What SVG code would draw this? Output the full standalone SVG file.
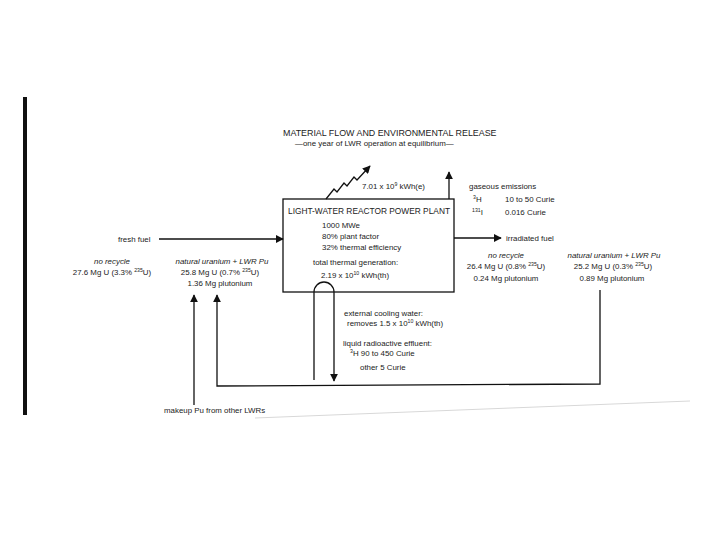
<svg xmlns="http://www.w3.org/2000/svg" width="720" height="540" viewBox="0 0 720 540">
<style>
text{font-family:"Liberation Sans",Arial,sans-serif;fill:#222;font-size:7.9px}
.cap{font-size:8.9px}
.it{font-style:italic}
.mid{text-anchor:middle}
.ln{fill:none;stroke:#111;stroke-width:1.3}
</style>
<defs>
<marker id="ah" viewBox="0 0 10 10" refX="9" refY="5" markerWidth="8" markerHeight="8" markerUnits="userSpaceOnUse" orient="auto">
<path d="M0,0 L10,5 L0,10 Z" fill="#111"/>
</marker>
</defs>
<rect width="720" height="540" fill="#fff"/>
<rect x="23" y="97" width="4" height="318" fill="#111"/>
<path d="M255,418 L690,401" stroke="#d8d8d8" stroke-width="1" fill="none"/>

<g id="title">
<text class="cap" x="283" y="136">MATERIAL FLOW AND ENVIRONMENTAL RELEASE</text>
<text x="295" y="146">—one year of LWR operation at equilibrium—</text>
</g>

<g id="plant">
<rect x="283" y="199" width="171" height="93" fill="none" stroke="#111" stroke-width="1.3"/>
<text class="cap" x="288" y="214" font-size="8.5" textLength="162" lengthAdjust="spacingAndGlyphs">LIGHT-WATER REACTOR POWER PLANT</text>
<text x="322" y="228">1000 MWe</text>
<text x="322" y="239">80% plant factor</text>
<text x="322" y="250">32% thermal efficiency</text>
<text x="313" y="265">total thermal generation:</text>
<text x="321" y="278">2.19 x 10<tspan font-size="5.2" dy="-3">10</tspan><tspan dy="3"> kWh(th)</tspan></text>
</g>

<g id="electric">
<text x="362" y="189">7.01 x 10<tspan font-size="5.2" dy="-3">9</tspan><tspan dy="3"> kWh(e)</tspan></text>
</g>

<g id="gaseous">
<text x="469" y="189">gaseous emissions</text>
<text x="473" y="202"><tspan font-size="5.2" dy="-3">3</tspan><tspan dy="3">H</tspan></text>
<text x="505" y="202">10 to 50 Curie</text>
<text x="472" y="215"><tspan font-size="5.2" dy="-3">131</tspan><tspan dy="3">I</tspan></text>
<text x="505" y="215">0.016 Curie</text>
</g>

<g id="fresh">
<text x="118" y="242">fresh fuel</text>
<text class="it mid" x="112" y="264">no recycle</text>
<text class="mid" x="112" y="275">27.6 Mg U (3.3% <tspan font-size="5.2" dy="-3">235</tspan><tspan dy="3">U)</tspan></text>
<text class="it mid" x="222" y="264">natural uranium + LWR Pu</text>
<text class="mid" x="220" y="275">25.8 Mg U (0.7% <tspan font-size="5.2" dy="-3">235</tspan><tspan dy="3">U)</tspan></text>
<text class="mid" x="220" y="286">1.36 Mg plutonium</text>
</g>

<g id="irradiated">
<text x="506" y="241">irradiated fuel</text>
<text class="it mid" x="506" y="258">no recycle</text>
<text class="mid" x="506" y="269">26.4 Mg U (0.8% <tspan font-size="5.2" dy="-3">235</tspan><tspan dy="3">U)</tspan></text>
<text class="mid" x="506" y="281">0.24 Mg plutonium</text>
<text class="it mid" x="614" y="258">natural uranium + LWR Pu</text>
<text class="mid" x="613" y="269">25.2 Mg U (0.3% <tspan font-size="5.2" dy="-3">235</tspan><tspan dy="3">U)</tspan></text>
<text class="mid" x="612" y="281">0.89 Mg plutonium</text>
</g>

<g id="cooling">
<text x="344" y="316">external cooling water:</text>
<text x="347" y="326">removes 1.5 x 10<tspan font-size="5.2" dy="-3">10</tspan><tspan dy="3"> kWh(th)</tspan></text>
<text x="343" y="346">liquid radioactive effluent:</text>
<text x="350" y="356"><tspan font-size="5.2" dy="-3">3</tspan><tspan dy="3">H 90 to 450 Curie</tspan></text>
<text x="360" y="370">other 5 Curie</text>
</g>

<g id="makeup">
<text x="164" y="413">makeup Pu from other LWRs</text>
</g>

<g id="connectors">
<path class="ln" d="M326,199 L334,189 L337,192 L344,183 L347,186 L354,177 L357,180 L370,166" marker-end="url(#ah)"/>
<path class="ln" d="M449,199 L449,172" marker-end="url(#ah)"/>
<path class="ln" d="M159,239 L283,239" marker-end="url(#ah)"/>
<path class="ln" d="M454,238 L501,238" marker-end="url(#ah)"/>
<path class="ln" d="M314,380 L314,292 A10,10 0 0 1 334,292 L334,381" marker-end="url(#ah)"/>
<path class="ln" d="M600,290 L600,384 L217,386 L217,295" marker-end="url(#ah)"/>
<path class="ln" d="M194,405 L194,295" marker-end="url(#ah)"/>
</g>
</svg>
